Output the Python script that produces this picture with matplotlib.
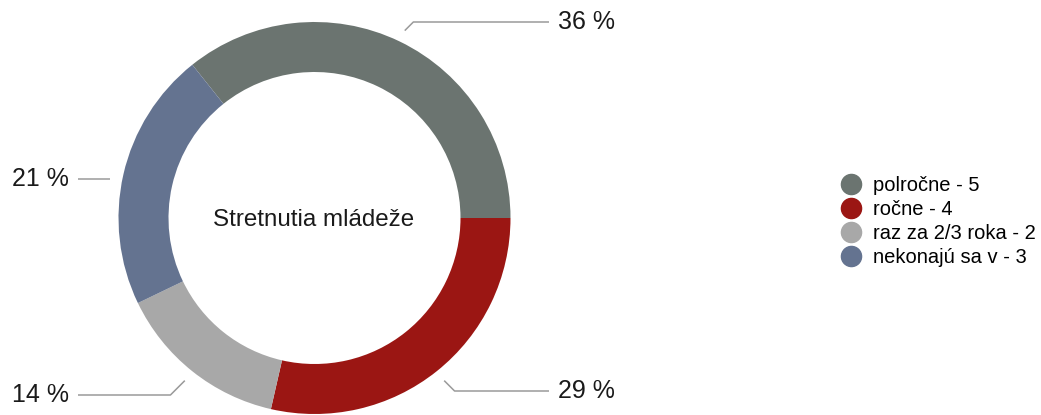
import numpy as np
import matplotlib.pyplot as plt
from matplotlib.lines import Line2D

# data
categories = ["polročne", "ročne", "raz za 2/3 roka", "nekonajú sa v"]
counts = [5, 4, 2, 3]
colors = ["#6b7470", "#9b1613", "#a8a8a8", "#647390"]
center_title = "Stretnutia mládeže"

# layout (pixels, y measured from top)
W, H = 1041, 415
CX, CY = 314.5, 218
R_OUT, RING = 196, 50
R_LEAD = 208
label_y = [22, 391, 395, 179]


def draw_donut(ax):
    total = sum(counts)
    wedges, _ = ax.pie(
        counts,
        colors=colors,
        radius=R_OUT,
        center=(CX, H - CY),
        startangle=360 * counts[0] / total,
        counterclock=False,
        wedgeprops=dict(width=RING, linewidth=0),
    )

    # percentage labels with leader lines
    for w, v, ly in zip(wedges, counts, label_y):
        mid = np.deg2rad((w.theta1 + w.theta2) / 2)
        side = 1 if np.cos(mid) > 0 else -1
        sx = CX + R_LEAD * np.cos(mid)
        sy = CY - R_LEAD * np.sin(mid)
        if abs(ly - sy) < 8:
            # label almost level with the slice: straight line
            sy = ly
            sx = CX + side * np.sqrt(R_LEAD ** 2 - (ly - CY) ** 2)
        ex = sx + side * abs(ly - sy)
        end_x = 549 if side > 0 else 78
        xs = [sx, ex, end_x]
        ys = [H - sy, H - ly, H - ly]
        ax.plot(xs, ys, color="#9a9a9a", lw=1.1, solid_capstyle="butt")
        txt = f"{round(100 * v / total)} %"
        ax.text(end_x + side * 9, H - ly, txt, fontsize=18, color="#1a1a1a",
                ha="left" if side > 0 else "right", va="center")

    ax.text(CX - 1, H - 220, center_title, fontsize=17.4, color="#1a1a1a",
            ha="center", va="center")


def draw_legend(fig, ax):
    handles = [
        Line2D([], [], marker="o", linestyle="none", markersize=14.5,
               markerfacecolor=c, markeredgecolor=c)
        for c in colors
    ]
    names = [f"{n} - {v}" for n, v in zip(categories, counts)]
    ax.legend(handles, names, loc="center left",
              bbox_to_anchor=(841 / W, (H - 221.5) / H),
              bbox_transform=fig.transFigure,
              frameon=False, fontsize=14.5, borderpad=0, borderaxespad=0,
              handlelength=1.0, handletextpad=0.6, labelspacing=0.26)


def main():
    plt.rcParams["font.family"] = ["Liberation Sans", "DejaVu Sans"]
    fig = plt.figure(figsize=(W / 100, H / 100), dpi=100)
    ax = fig.add_axes([0, 0, 1, 1])

    draw_donut(ax)
    draw_legend(fig, ax)

    ax.set_xlim(0, W)
    ax.set_ylim(0, H)
    ax.set_aspect("equal")
    ax.axis("off")

    plt.savefig("out.png", dpi=100, facecolor="white")


if __name__ == "__main__":
    main()
